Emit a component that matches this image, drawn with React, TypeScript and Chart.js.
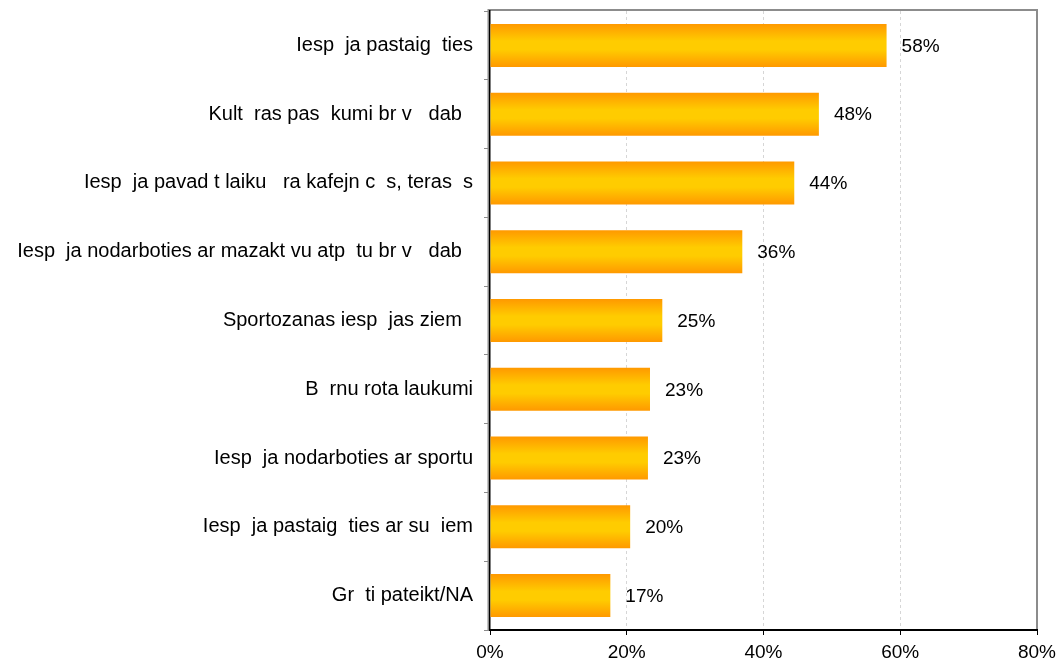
import React, { useEffect, useRef } from "react";
import { Chart, registerables } from "chart.js";

Chart.register(...registerables);

const categories: string[] = [
  "Iesp  ja pastaig  ties",
  "Kult  ras pas  kumi br v   dab  ",
  "Iesp  ja pavad t laiku   ra kafejn c  s, teras  s",
  "Iesp  ja nodarboties ar mazakt vu atp  tu br v   dab  ",
  "Sportozanas iesp  jas ziem  ",
  "B  rnu rota laukumi",
  "Iesp  ja nodarboties ar sportu",
  "Iesp  ja pastaig  ties ar su  iem",
  "Gr  ti pateikt/NA",
];

const values: number[] = [58.0, 48.1, 44.5, 36.9, 25.2, 23.4, 23.1, 20.5, 17.6];
const valueLabels: string[] = ["58%", "48%", "44%", "36%", "25%", "23%", "23%", "20%", "17%"];
const xTicks: number[] = [0, 20, 40, 60, 80];

const FONT = "'Liberation Sans', Arial, sans-serif";
const BAR_PCT = 0.625;

export default function App() {
  const ref = useRef<HTMLCanvasElement | null>(null);

  useEffect(() => {
    document.body.style.margin = "0";
    const canvas = ref.current;
    if (!canvas) return;

    const framePlugin = {
      id: "frame",
      beforeDraw(chart: any) {
        const { ctx, chartArea } = chart;
        if (!chartArea) return;
        ctx.save();
        ctx.strokeStyle = "#8c8c8c";
        ctx.lineWidth = 2;
        ctx.beginPath();
        ctx.moveTo(chartArea.left - 1.5, chartArea.bottom);
        ctx.lineTo(chartArea.left - 1.5, chartArea.top - 1);
        ctx.lineTo(chartArea.right, chartArea.top - 1);
        ctx.lineTo(chartArea.right, chartArea.bottom);
        ctx.stroke();
        ctx.restore();
      },
    };

    const labelPlugin = {
      id: "valueLabels",
      afterDatasetsDraw(chart: any) {
        const { ctx } = chart;
        const meta = chart.getDatasetMeta(0);
        ctx.save();
        ctx.font = `19px ${FONT}`;
        ctx.fillStyle = "#000";
        ctx.textAlign = "left";
        ctx.textBaseline = "middle";
        meta.data.forEach((bar: any, i: number) => {
          ctx.fillText(valueLabels[i], bar.x + 15, bar.y + 1);
        });
        ctx.restore();
      },
    };

    const chart = new Chart(canvas, {
      type: "bar",
      data: {
        labels: categories,
        datasets: [
          {
            data: values,
            barPercentage: BAR_PCT,
            categoryPercentage: 1,
            borderWidth: 0,
            backgroundColor: (c: any) => {
              const ch = c.chart;
              const y = ch.scales && ch.scales.y;
              if (!y || !ch.chartArea) return "#FFB000";
              const center = y.getPixelForValue(c.dataIndex);
              const step = Math.abs(y.getPixelForValue(1) - y.getPixelForValue(0));
              const half = (step * BAR_PCT) / 2;
              const g = ch.ctx.createLinearGradient(0, center - half, 0, center + half);
              g.addColorStop(0, "#FF9900");
              g.addColorStop(0.4, "#FFCC00");
              g.addColorStop(0.6, "#FFCC00");
              g.addColorStop(1, "#FF9900");
              return g;
            },
          },
        ],
      },
      options: {
        indexAxis: "y",
        responsive: false,
        animation: false,
        layout: { padding: { top: 11, right: 23, left: 0, bottom: 0 } },
        plugins: {
          legend: { display: false },
          tooltip: { enabled: false },
          title: { display: false },
        },
        scales: {
          x: {
            min: 0,
            max: 80,
            afterBuildTicks: (scale: any) => {
              scale.ticks = xTicks.map((v) => ({ value: v }));
            },
            afterFit: (scale: any) => {
              scale.height = 34;
              scale.paddingLeft = 0;
              scale.paddingRight = 0;
            },
            ticks: {
              color: "#000",
              font: { family: FONT, size: 19 },
              padding: 6,
              maxRotation: 0,
              callback: (v: any) => `${v}%`,
            },
            grid: {
              color: (c: any) =>
                c.tick && (c.tick.value === 0 || c.tick.value === 80) ? "rgba(0,0,0,0)" : "#d6d6d6",
              lineWidth: 1,
              drawTicks: true,
              tickLength: 5,
              tickColor: "#000",
              tickBorderDash: [],
            },
            border: { display: true, color: "#000", width: 2, dash: [3, 3] },
          },
          y: {
            afterFit: (scale: any) => {
              scale.width = 490;
              scale.paddingTop = 0;
              scale.paddingBottom = 0;
            },
            ticks: {
              color: "#000",
              font: { family: FONT, size: 20 },
              padding: 11,
              autoSkip: false,
            },
            grid: {
              drawOnChartArea: false,
              drawTicks: true,
              tickLength: 6,
              tickColor: "#8c8c8c",
              offset: true,
            },
            border: { display: true, color: "#000", width: 1.5 },
          },
        },
      },
      plugins: [framePlugin, labelPlugin],
    } as any);

    return () => chart.destroy();
  }, []);

  return <canvas ref={ref} width={1060} height={664} style={{ display: "block" }} />;
}
